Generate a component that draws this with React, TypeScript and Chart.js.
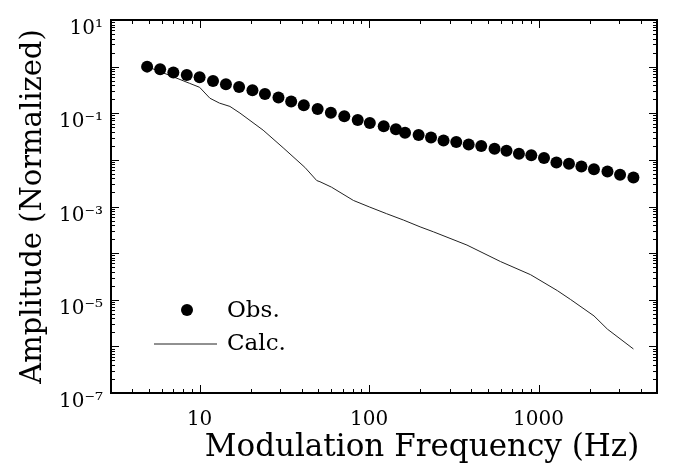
import React, { useEffect, useRef } from 'react';
import { Chart, registerables } from 'chart.js';

Chart.register(...registerables);

// Observed amplitudes (filled circles)
const obsFreq = [4.9, 5.85, 7.0, 8.4, 10, 12, 14.3, 17.1, 20.5, 24.3, 29.2, 34.7, 41.2, 49.7, 59.5, 71.4, 85.7, 101, 122, 144, 163, 196, 232, 275, 327, 387, 459, 550, 647, 766, 906, 1077, 1275, 1512, 1790, 2123, 2551, 3027, 3630];
const obsAmp = [1.0, 0.88, 0.75, 0.66, 0.59, 0.49, 0.42, 0.365, 0.31, 0.26, 0.218, 0.179, 0.149, 0.123, 0.103, 0.086, 0.072, 0.062, 0.0527, 0.0455, 0.038, 0.034, 0.0302, 0.026, 0.0241, 0.0214, 0.0198, 0.0174, 0.0157, 0.0136, 0.0125, 0.011, 0.0088, 0.0083, 0.0072, 0.0063, 0.0056, 0.0048, 0.0042];

// Calculated amplitudes (thin line)
const calcFreq = [4.9, 5.8, 6.95, 8.7, 10, 11.5, 13.1, 15.1, 17.3, 23.7, 31.1, 41.8, 49.1, 51.3, 60, 80.8, 101, 127, 160, 200, 240, 378, 596, 897, 1291, 1547, 2124, 2550, 3630];
const calcAmp = [1.0, 0.79, 0.61, 0.44, 0.36, 0.21, 0.165, 0.14, 0.101, 0.0434, 0.0182, 0.0069, 0.0036, 0.0034, 0.0026, 0.00135, 0.00097, 0.0007, 0.00051, 0.000366, 0.000286, 0.000149, 6.6e-5, 3.45e-5, 1.57e-5, 1.01e-5, 4.5e-6, 2.34e-6, 8.8e-7];

const xTickValues = [10, 100, 1000];
const xTickLabels = ['10', '100', '1000'];
const yTickValues = [10, 0.1, 1e-3, 1e-5, 1e-7];
const yTickLabels = ['10\u00B9', '10\u207B\u00B9', '10\u207B\u00B3', '10\u207B\u2075', '10\u207B\u2077'];
const seriesNames = ['Obs.', 'Calc.'];
const xTitle = 'Modulation Frequency (Hz)';
const yTitle = 'Amplitude (Normalized)';

const FONT = '"DejaVu Serif", serif';

const framePlugin = {
  id: 'frameTicks',
  afterDraw(chart: any) {
    const { ctx, chartArea, scales } = chart;
    const { left, right, top, bottom } = chartArea;
    const xs = scales.x;
    const ys = scales.y;
    ctx.save();
    ctx.strokeStyle = '#000';
    ctx.lineWidth = 1;
    // x ticks (inward on bottom and top)
    for (let d = 0; d <= 4; d++) {
      for (let m = 1; m <= 9; m++) {
        const v = m * Math.pow(10, d);
        if (v <= xs.min || v >= xs.max) continue;
        const px = Math.round(xs.getPixelForValue(v)) + 0.5;
        const len = m === 1 ? 8 : 4;
        ctx.beginPath();
        ctx.moveTo(px, bottom);
        ctx.lineTo(px, bottom - len);
        ctx.moveTo(px, top);
        ctx.lineTo(px, top + len);
        ctx.stroke();
      }
    }
    // y ticks (inward on left and right)
    for (let d = -7; d <= 1; d++) {
      for (let m = 1; m <= 9; m++) {
        const v = m * Math.pow(10, d);
        if (v <= ys.min * 1.0001 || v >= ys.max * 0.9999) continue;
        const py = Math.round(ys.getPixelForValue(v)) + 0.5;
        const len = m === 1 ? 8 : 4;
        ctx.beginPath();
        ctx.moveTo(left, py);
        ctx.lineTo(left + len, py);
        ctx.moveTo(right, py);
        ctx.lineTo(right - len, py);
        ctx.stroke();
      }
    }
    // frame
    ctx.lineWidth = 2;
    ctx.strokeRect(left, top, right - left, bottom - top);

    // x axis title (shifted right as in the original figure)
    ctx.fillStyle = '#000';
    ctx.font = '31px ' + FONT;
    ctx.textAlign = 'center';
    ctx.textBaseline = 'middle';
    ctx.fillText(xTitle, left + 311, chart.height - 26);

    // legend
    const ds0 = chart.data.datasets[0];
    const ds1 = chart.data.datasets[1];
    const mx = left + 76;
    const my = bottom - 83;
    ctx.fillStyle = ds0.pointBackgroundColor;
    ctx.beginPath();
    ctx.arc(mx, my, 6, 0, Math.PI * 2);
    ctx.fill();
    ctx.strokeStyle = ds1.borderColor;
    ctx.lineWidth = ds1.borderWidth;
    ctx.beginPath();
    ctx.moveTo(left + 43, bottom - 49);
    ctx.lineTo(left + 106, bottom - 49);
    ctx.stroke();
    ctx.fillStyle = '#000';
    ctx.font = '23px ' + FONT;
    ctx.textBaseline = 'middle';
    ctx.textAlign = 'left';
    ctx.fillText(seriesNames[0], left + 116, my + 1);
    ctx.fillText(seriesNames[1], left + 116, bottom - 49);
    ctx.restore();
  },
};

export default function App() {
  const ref = useRef<HTMLCanvasElement | null>(null);
  useEffect(() => {
    if (!ref.current) return;
    const chart = new Chart(ref.current, {
      type: 'line',
      data: {
        datasets: [
          {
            label: seriesNames[0],
            data: obsFreq.map((f, i) => ({ x: f, y: obsAmp[i] })),
            showLine: false,
            pointRadius: 6,
            pointBackgroundColor: '#000',
            pointBorderColor: '#000',
            borderColor: '#000',
            pointBorderWidth: 0,
          },
          {
            label: seriesNames[1],
            data: calcFreq.map((f, i) => ({ x: f, y: calcAmp[i] })),
            showLine: true,
            pointRadius: 0,
            borderWidth: 1,
            borderColor: '#222',
            tension: 0,
            fill: false,
          },
        ],
      },
      options: {
        responsive: false,
        animation: false,
        events: [],
        layout: { padding: { left: 0, right: 16, top: 16, bottom: 0 } },
        plugins: { legend: { display: false }, tooltip: { enabled: false } },
        scales: {
          x: {
            type: 'logarithmic',
            min: 3,
            max: 5000,
            position: 'bottom',
            grid: { display: false, drawTicks: false },
            border: { display: false },
            afterBuildTicks: (s: any) => {
              s.ticks = xTickValues.map((v) => ({ value: v }));
            },
            afterFit: (s: any) => {
              s.height = 81;
            },
            ticks: {
              autoSkip: false,
              maxRotation: 0,
              padding: 15,
              color: '#000',
              font: { family: FONT, size: 20 },
              callback: (v: any) => {
                const i = xTickValues.indexOf(Number(v));
                return i >= 0 ? xTickLabels[i] : '';
              },
            },
            title: { display: false },
          },
          y: {
            type: 'logarithmic',
            min: 1e-7,
            max: 10,
            grid: { display: false, drawTicks: false },
            border: { display: false },
            afterBuildTicks: (s: any) => {
              s.ticks = yTickValues.map((v) => ({ value: v }));
            },
            afterFit: (s: any) => {
              s.width = 111;
            },
            ticks: {
              autoSkip: false,
              padding: 8,
              labelOffset: 9,
              color: '#000',
              font: { family: FONT, size: 20 },
              callback: (v: any) => {
                const n = Number(v);
                const i = yTickValues.findIndex((t) => Math.abs(Math.log10(t) - Math.log10(n)) < 1e-6);
                return i >= 0 ? yTickLabels[i] : '';
              },
            },
            title: {
              display: true,
              text: yTitle,
              color: '#000',
              font: { family: FONT, size: 29 },
              padding: { top: 16, bottom: 0 },
            },
          },
        },
      },
      plugins: [framePlugin],
    } as any);
    return () => chart.destroy();
  }, []);
  return (
    <div style={{ position: 'fixed', left: 0, top: 0, width: 673, height: 474, background: '#fff' }}>
      <canvas ref={ref} width={673} height={474} />
    </div>
  );
}
